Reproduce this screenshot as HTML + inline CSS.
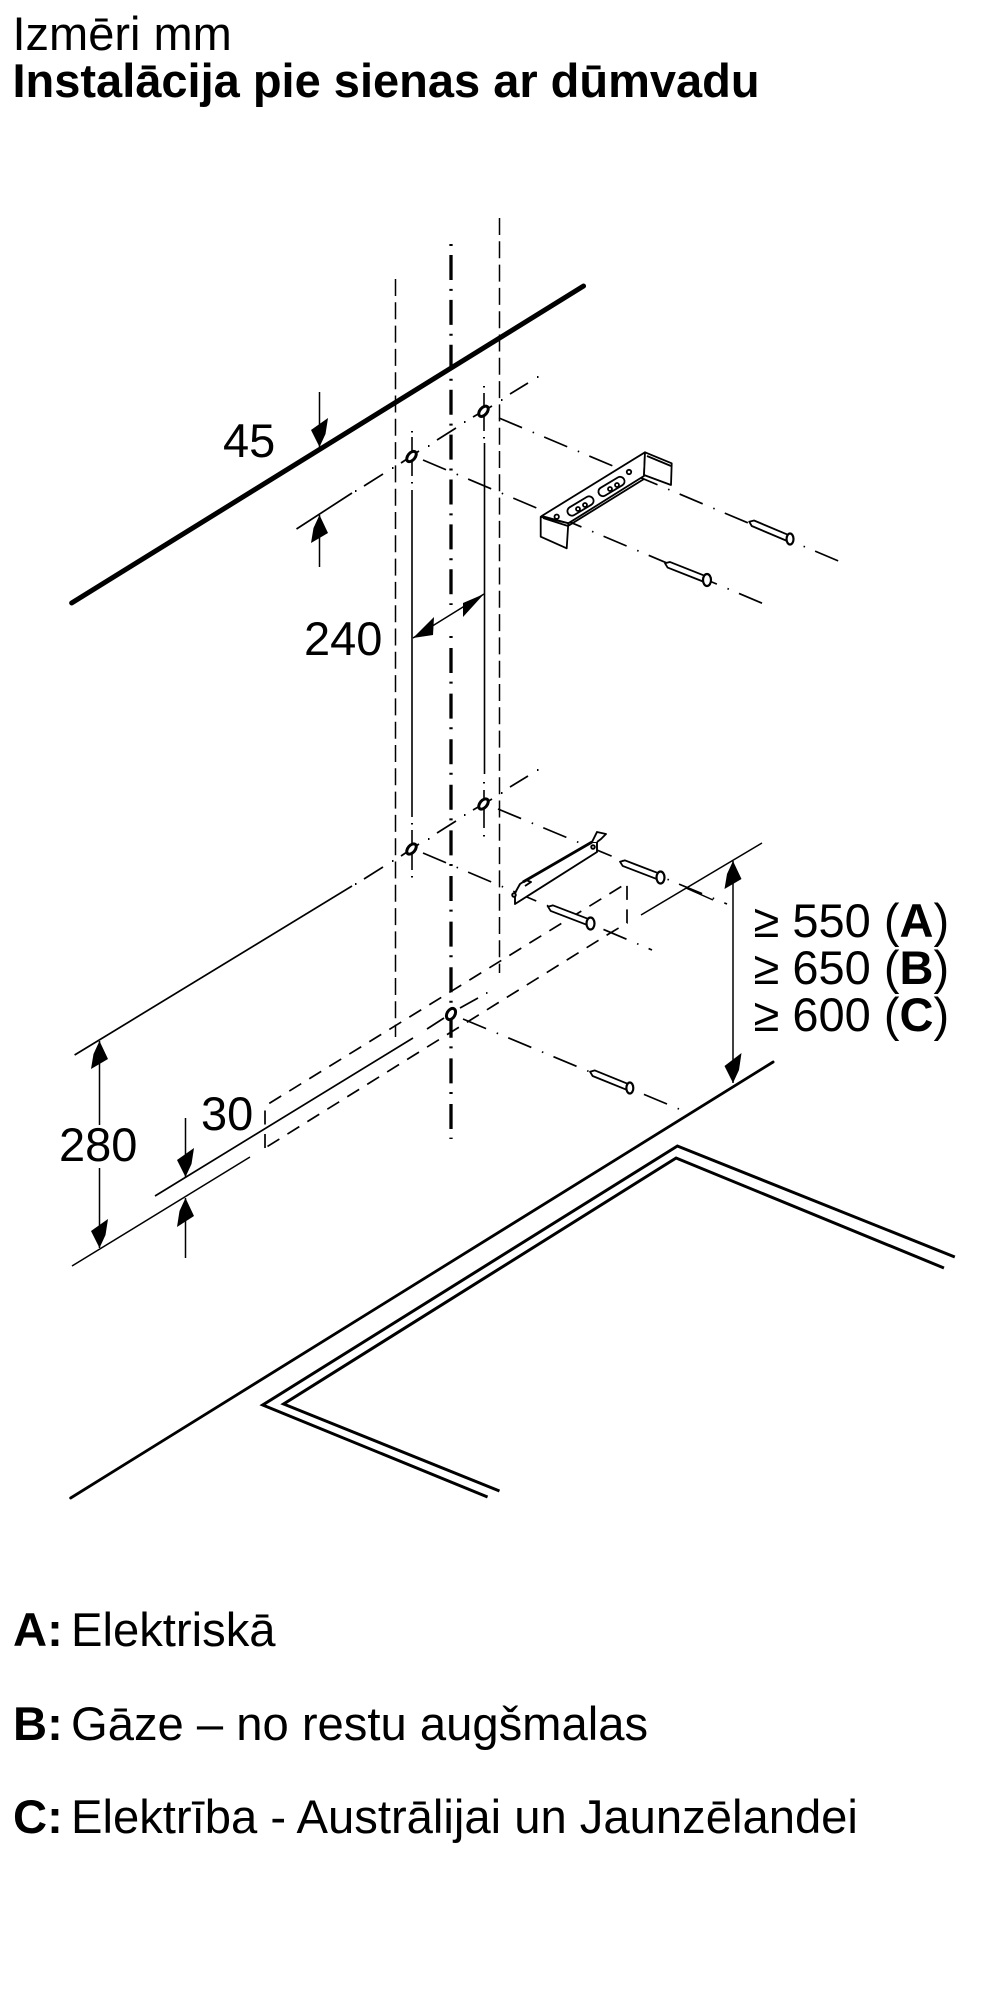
<!DOCTYPE html>
<html><head><meta charset="utf-8"><title>Instalācija</title>
<style>
html,body{margin:0;padding:0;background:#fff;width:1000px;height:2000px;overflow:hidden}
svg{display:block}
text{font-family:"Liberation Sans",sans-serif;font-size:47px;fill:#000}
.b{font-weight:bold}
.l{font-size:47.2px}
</style></head><body>
<svg xmlns="http://www.w3.org/2000/svg" width="1000" height="2000" viewBox="0 0 1000 2000">
<defs>
<g id="screw">
<path d="M0 0L4 -3L42 -3L42 3L4 3Z" fill="#fff" stroke="#000" stroke-width="1.800" stroke-linejoin="round"/>
</g>
<g id="updash" fill="none" stroke="#000" stroke-width="1.700">
<path d="M364 486L383 474M401 463L419 451M437 440L456 428M473 417L492 406M510 394L528 383"/>
<path d="M355 491h1.500M392 468h1.500M428 446h1.500M464 422h1.500M501 400h1.500M537 377h1.500" stroke-width="2"/>
</g>
</defs>
<text x="12.500" y="50">Izmēri mm</text>
<text x="12.500" y="97" class="b">Instalācija pie sienas ar dūmvadu</text>

<!-- vertical dashed -->
<g fill="none" stroke="#000" stroke-width="1.500" stroke-dasharray="17 6.300">
<path d="M395.500 279V1037"/>
<path d="M499.500 218V973"/>
</g>
<!-- center -->
<g fill="none" stroke="#000" stroke-width="3.300" stroke-dasharray="2 9 25 8.900">
<path d="M451 244V605"/>
<path d="M451 636V1139" stroke-dasharray="2 10 25 8.600"/>
</g>
<!-- thin verticals -->
<g fill="none" stroke="#000" stroke-width="1.600">
<path d="M412 490V817M412 437V476M412 830V870"/>
<path d="M484.500 443V774M484 393V431M484 790V828"/>
<path d="M412 431v1.500M412 482v1.500M412 823v1.500M412 876v1.500M484 386v1.500M484 437v1.500M484 782v1.500M484 835v1.500" stroke-width="2"/>
</g>
<!-- dash-dot diagonals up-right -->
<path d="M296.500 529L352 493" fill="none" stroke="#000" stroke-width="1.700"/>
<path d="M74.600 1055L352 886" fill="none" stroke="#000" stroke-width="1.700"/>
<use href="#updash"/>
<use href="#updash" transform="translate(0 393)"/>
<!-- down-right -->
<g fill="none" stroke="#000" stroke-width="1.700" stroke-dasharray="25 11.500 1.500 11">
<path d="M499 418L848 565"/>
<path d="M423 460L764 604"/>
<path d="M498 809L727 904"/>
<path d="M423 853L652 950"/>
<path d="M463 1019L679 1109"/>
</g>
<g fill="none" stroke="#000" stroke-width="1.500">
<!-- shelf line -->
<path d="M641 915L762 843"/><path d="M686 888L713 900"/>
<!-- dimension lines -->
<path d="M319.500 392V447M319.500 515V567"/>
<path d="M413 638L484 594"/>
<path d="M733 861V1083"/>
<path d="M99.500 1041V1125M99.500 1168V1248"/>
<path d="M185.500 1118V1177M185.500 1198V1258"/>
<path d="M72 1266L250 1157"/>
<path d="M155 1196L413 1038M427 1029L444 1018M460 1008L478 998M486 993h1.500" stroke-width="1.700"/>
</g>
<!-- dashed box -->
<g fill="none" stroke="#000" stroke-width="1.700" stroke-dasharray="14 9.500">
<path d="M265 1148V1106L627 883V923L607 935L265 1148"/>
</g>
<!-- holes -->
<g fill="#fff" stroke="#000" stroke-width="3">
<ellipse cx="483.500" cy="411.300" rx="3.600" ry="6" transform="rotate(40 483.500 411.300)"/>
<ellipse cx="411.500" cy="456.500" rx="3.600" ry="6" transform="rotate(40 411.500 456.500)"/>
<ellipse cx="483.500" cy="804" rx="3.600" ry="6" transform="rotate(40 483.500 804)"/>
<ellipse cx="411.500" cy="849" rx="3.600" ry="6" transform="rotate(40 411.500 849)"/>
<ellipse cx="451" cy="1014" rx="4" ry="6" transform="rotate(30 451 1014)"/>
</g>
<!-- arrows -->
<g fill="#000">
<path d="M319.500 447L311 430L328 418L325.500 434Z"/>
<path d="M319.500 515L328 533L311 543L313.500 528Z"/>
<path d="M413 638L434 617L433 635Z"/>
<path d="M484 594L463 603L463 617Z"/>
<path d="M733 861L741.500 879L724.500 889L727 874Z"/>
<path d="M733 1083L724.500 1066L741.500 1053L739 1070Z"/>
<path d="M99.500 1041L108 1059L91 1069L93.500 1054Z"/>
<path d="M99.500 1248L91 1231L108 1219L105.500 1235Z"/>
<path d="M185.500 1177L177 1160L194 1148L191.500 1164Z"/>
<path d="M185.500 1198L194 1216L177 1227L179.500 1211Z"/>
</g>
<g transform="scale(0.995 1)">
<!-- wall -->
<path d="M72 603L586.500 286" fill="none" stroke="#000" stroke-width="5" stroke-linecap="round"/>
<!-- worktop -->
<path d="M71 1498L777 1062" fill="none" stroke="#000" stroke-width="2.800" stroke-linecap="round"/>
<!-- hob -->
<g fill="none" stroke="#000" stroke-width="3" stroke-linejoin="miter">
<path d="M959.600 1257L680.800 1146L264 1405L490 1497"/>
<path d="M948.700 1268L679.500 1158L285 1404L502 1491"/>
</g>
<!-- screws from scaled measurements -->
<use href="#screw" transform="translate(753 521.700) rotate(22.800)"/>
<use href="#screw" transform="translate(593 1071.700) rotate(22)"/>
<g fill="#fff" stroke="#000" stroke-width="2.200">
<ellipse cx="794" cy="539" rx="3.500" ry="5.500"/>
<ellipse cx="633" cy="1088" rx="3.500" ry="5.500"/>
</g>
</g>
<!-- top bracket -->
<g fill="#fff" stroke="#000" stroke-width="1.800" stroke-linejoin="round">
<path d="M541.700 516L645 452.300L644 476L568.300 523.300Z"/>
<path d="M645 452.300L671.700 463.300L671 485L644 475Z"/>
<path d="M540.700 516.700L568.300 523.300L566.700 548.300L540.700 536.700Z"/>
<path d="M647 456L671 466" fill="none"/>
<path d="M543 518L568 526" fill="none"/>
<path d="M568 526L644 479" fill="none"/>
<rect x="566" y="501.500" width="29" height="9" rx="4.500" transform="rotate(-31 580.500 506)"/>
<rect x="597" y="482" width="29" height="9" rx="4.500" transform="rotate(-31 611.500 486.500)"/>
<circle cx="578" cy="509" r="2"/><circle cx="585" cy="505" r="2"/>
<circle cx="610" cy="489" r="2"/><circle cx="617" cy="485" r="2"/>
<circle cx="629" cy="472" r="2.200"/><circle cx="556.700" cy="516.700" r="2.200"/>
</g>
<!-- lower bracket -->
<g fill="#fff" stroke="#000" stroke-width="1.900" stroke-linejoin="round">
<path d="M515 904L597 852L597 842L592 842L523 882L515 893Z"/>
<path d="M592 842L597 832L606 834L601 839L597 842"/>
<path d="M515 893L520 884L526 880L531 882L525 886"/>
<path d="M523 882L592 842" fill="none" stroke-width="2.800"/>
<circle cx="593" cy="847" r="1.800"/><circle cx="514" cy="895" r="1.800"/>
</g>
<!-- screws -->
<use href="#screw" transform="translate(665 563.300) rotate(21.500)"/>
<use href="#screw" transform="translate(620 861.700) rotate(21)"/>
<use href="#screw" transform="translate(548 906.700) rotate(21)"/>
<g fill="#fff" stroke="#000" stroke-width="2.200">
<ellipse cx="707" cy="580" rx="4" ry="6"/>
<ellipse cx="660.500" cy="877.500" rx="4" ry="6"/>
<ellipse cx="590.500" cy="923.500" rx="4" ry="6"/>
</g>
<!-- labels -->
<text x="223" y="457">45</text>
<text x="304" y="655">240</text>
<text x="201" y="1130">30</text>
<text x="59" y="1161">280</text>
<text x="753.500" y="937">≥ 550 (<tspan class="b">A</tspan>)</text>
<text x="753.500" y="984">≥ 650 (<tspan class="b">B</tspan>)</text>
<text x="753.500" y="1031">≥ 600 (<tspan class="b">C</tspan>)</text>
<text x="13" y="1646" class="b l">A:</text><text x="71" y="1646" class="l">Elektriskā</text>
<text x="13" y="1740" class="b l">B:</text><text x="71" y="1740" class="l">Gāze – no restu augšmalas</text>
<text x="13" y="1833" class="b l">C:</text><text x="71" y="1833" class="l">Elektrība - Austrālijai un Jaunzēlandei</text>
</svg>
</body></html>
